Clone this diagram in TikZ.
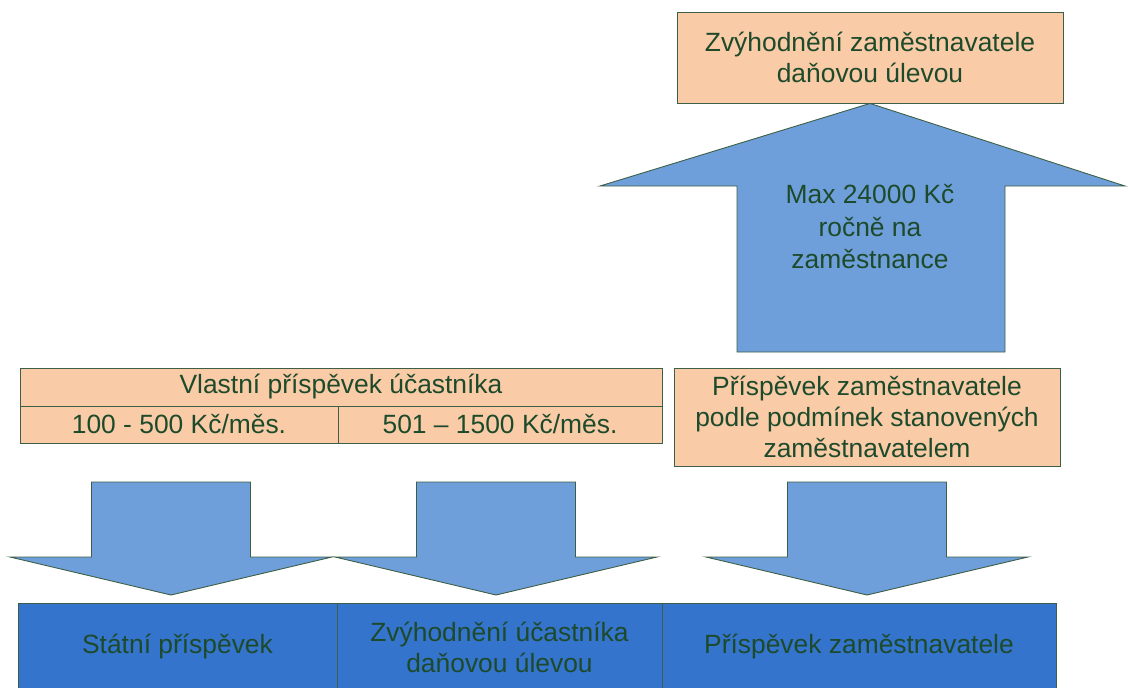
\documentclass[tikz,border=0pt]{standalone}
\usepackage{fontspec}
\setmainfont{Liberation Sans}
\usepackage{xcolor}
\definecolor{PeachFill}{HTML}{FACBA7}
\definecolor{ArrowBlue}{HTML}{6F9FDA}
\definecolor{DeepBlue}{HTML}{3474CC}
\definecolor{EdgeGreen}{HTML}{3E5F47}
\definecolor{TextGreen}{HTML}{1D4A2B}

\tikzset{
  cell/.style={draw=EdgeGreen, line width=0.9pt, inner sep=0pt, align=center, text=TextGreen, font=\fontsize{26.4}{31}\selectfont},
  peachcell/.style={cell, fill=PeachFill},
  bluecell/.style={cell, fill=DeepBlue, minimum height=88pt},
  blockarrow/.style={draw=EdgeGreen, line width=0.9pt, fill=ArrowBlue}
}

\begin{document}
\begin{tikzpicture}[x=1pt, y=-1pt]
        \clip (0,0) rectangle (1128,688);
        % employer side, top
        \node[peachcell, minimum width=386pt, minimum height=91pt] (gain) at (870,57.5) {Zvýhodnění zaměstnavatele\\daňovou úlevou};
        \draw[blockarrow] (gain.south) -- (1125,186) -- (1005,186) -- (1005,352) -- (737,352) -- (737,186) -- (600,186) -- cycle;
        \node[align=center, text=TextGreen, font=\fontsize{26.4}{32.5}\selectfont] (limit) at (870,227) {Max 24000 Kč\\ročně na\\zaměstnance};

        % contributions
        \node[peachcell, minimum width=642pt, minimum height=38pt] (own) at (341,387) {Vlastní příspěvek účastníka};
        \node[peachcell, minimum width=318pt, minimum height=37pt] (low) at (179,424.5) {100 - 500 Kč/měs.};
        \node[peachcell, minimum width=324pt, minimum height=37pt] (high) at (500,424.5) {501 – 1500 Kč/měs.};
        \node[peachcell, minimum width=386pt, minimum height=98pt] (empl) at (867,417) {Příspěvek zaměstnavatele\\podle podmínek stanovených\\zaměstnavatelem};

        % block arrows down
        \foreach \cx in {171,496,867} {
          \draw[blockarrow] (\cx-79.5,482) -- (\cx+79.5,482) -- (\cx+79.5,557) -- (\cx+161,557) -- (\cx,595) -- (\cx-161,557) -- (\cx-79.5,557) -- cycle;
        }

        % results
        \node[bluecell, minimum width=319pt] (state) at (177.5,647) {Státní příspěvek};
        \node[bluecell, minimum width=325pt] (tax) at (499.5,647) {Zvýhodnění účastníka\\daňovou úlevou};
        \node[bluecell, minimum width=394pt] (bonus) at (859,647) {Příspěvek zaměstnavatele};
      \end{tikzpicture}
\end{document}
